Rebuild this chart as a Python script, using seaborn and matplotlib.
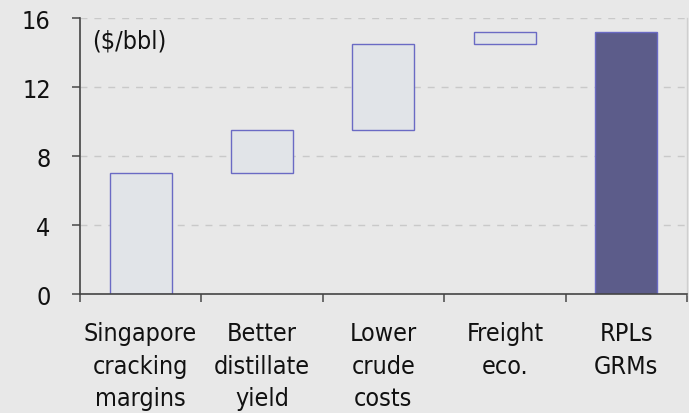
import matplotlib
matplotlib.use("Agg")
import matplotlib.pyplot as plt
import seaborn as sns
import pandas as pd
import numpy as np
from matplotlib import font_manager

# Refining margin bridge ($/bbl)
categories = ["Singapore\ncracking\nmargins", "Better\ndistillate\nyield",
              "Lower\ncrude\ncosts", "Freight\neco.", "RPLs\nGRMs"]
steps = [7.0, 2.5, 5.0, 0.7]
total = 15.2
kinds = ["step", "step", "step", "step", "total"]

heights = steps + [total]
bases = list(np.concatenate([[0.0], np.cumsum(steps)[:-1]])) + [0.0]

df = pd.DataFrame({"category": categories, "height": heights,
                   "base": bases, "kind": kinds})

sns.set_theme(style="white")
plt.rcParams["font.family"] = ["DejaVu Sans"]

# a narrower face if the condensed DejaVu files are present
condensed = [f.fname for f in font_manager.fontManager.ttflist
             if f.name == "DejaVu Sans" and f.stretch == "condensed"
             and f.weight in (400, "normal") and f.style == "normal"]
if condensed:
    label_font = font_manager.FontProperties(fname=condensed[0], size=18)
else:
    label_font = font_manager.FontProperties(family="DejaVu Sans", size=16)

bg = "#e8e8e8"
fig = plt.figure(figsize=(6.89, 4.14), dpi=100, facecolor=bg)
ax = fig.add_axes([0.116, 0.287, 0.881, 0.667])
ax.set_facecolor(bg)

fills = {"step": "#e1e4e8", "total": "#5c5c8a"}
for kind, sub in df.groupby("kind"):
    sns.barplot(data=sub, x="category", y="height", order=categories,
                color=fills[kind], saturation=1, width=0.51,
                bottom=sub["base"].to_numpy(), linewidth=1.0,
                edgecolor="#6a6ac4", ax=ax)

ax.set_xlim(-0.5, 4.5)
ax.set_ylim(0, 16)
ax.set_yticks([0, 4, 8, 12, 16])
ax.set_yticklabels(["0", "4", "8", "12", "16"], fontproperties=label_font)
ax.yaxis.grid(True, color="#c9c9c9", linestyle=(0, (5, 5)), linewidth=1.0)
ax.set_axisbelow(True)

# category boundaries carry the ticks, names sit centred between them
ax.set_xticks(np.arange(-0.5, 5.0, 1.0))
ax.set_xticklabels([])
ax.set_xticks(np.arange(5), minor=True)
ax.set_xticklabels(categories, minor=True, fontproperties=label_font,
                   linespacing=1.47, color="#111111")
ax.tick_params(axis="x", which="major", bottom=True, direction="out",
               length=6, width=1.2, color="#555555")
ax.tick_params(axis="x", which="minor", bottom=True, length=0, pad=19)
ax.tick_params(axis="y", left=True, direction="out", length=6, width=1.2,
               color="#555555", labelcolor="#111111", pad=15)

ax.set_xlabel("")
ax.set_ylabel("")
for side in ("left", "bottom"):
    ax.spines[side].set_color("#444444")
    ax.spines[side].set_linewidth(1.2)
ax.spines["top"].set_visible(False)
ax.spines["right"].set_color("#cfcfcf")
ax.spines["right"].set_linewidth(1.0)

ax.text(-0.4, 15.4, "($/bbl)", fontproperties=label_font, color="#111111",
        ha="left", va="top")

fig.savefig("out.png", dpi=100, facecolor=bg)
